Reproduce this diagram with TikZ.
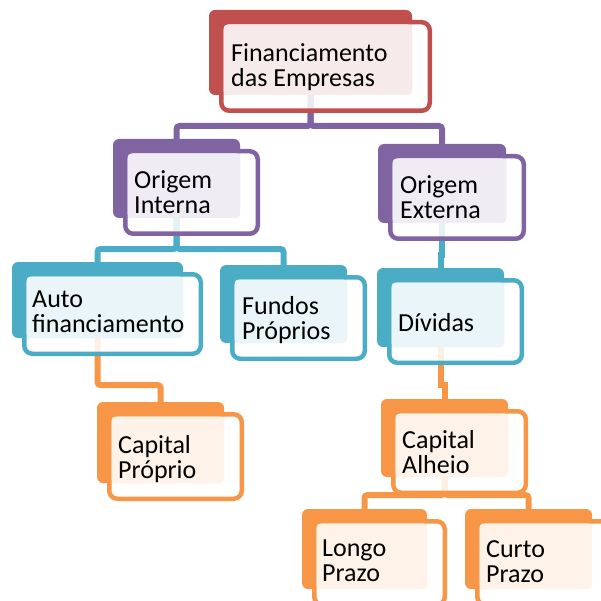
\documentclass[tikz,border=0pt]{standalone}
\usepackage{fontspec}
\setmainfont{Carlito}
\definecolor{fred}{HTML}{C0504D}
\definecolor{fpurple}{HTML}{8064A2}
\definecolor{fblue}{HTML}{4BACC6}
\definecolor{forange}{HTML}{F79646}
\tikzset{
  cardback/.style={fill=#1, rounded corners=6pt, inner sep=0pt, outer sep=0pt, anchor=north west},
  cardfront/.style={draw=#1, line width=4.5pt, fill=white, fill opacity=0.85, rounded corners=8pt},
  tint/.style={fill=#1!12, rounded corners=4pt},
  link/.style={draw=#1, line width=6pt, rounded corners=3pt},
  txt/.style={anchor=north west, inner sep=0pt, align=left,
    font=\fontsize{26pt}{25pt}\selectfont, execute at begin node={\rule{0pt}{20pt}}}
}

\begin{document}
\begin{tikzpicture}[x=1pt,y=-1pt]
  \useasboundingbox (0,0) rectangle (601,601);
  \clip (0,0) rectangle (601,601);
  % back tabs
  \node[cardback=fred, minimum width=203pt, minimum height=85pt] (fin) at (209,10) {};
  \node[cardback=fpurple, minimum width=127pt, minimum height=79pt] (oint) at (113,139) {};
  \node[cardback=fpurple, minimum width=128pt, minimum height=79pt] (oext) at (378,144) {};
  \node[cardback=fblue, minimum width=171pt, minimum height=76pt] (auto) at (12,262) {};
  \node[cardback=fblue, minimum width=127pt, minimum height=78pt] (fund) at (220,265) {};
  \node[cardback=fblue, minimum width=127pt, minimum height=79pt] (div) at (377,268) {};
  \node[cardback=forange, minimum width=127pt, minimum height=81pt] (cprop) at (97,402) {};
  \node[cardback=forange, minimum width=127pt, minimum height=78pt] (calh) at (381,399) {};
  \node[cardback=forange, minimum width=125pt, minimum height=80pt] (longo) at (302,509) {};
  \node[cardback=forange, minimum width=127pt, minimum height=80pt] (curto) at (465,509) {};
  % connectors
  \draw[link=fpurple] (fin.south) -- ++(0,31) -| (oint.north);
  \draw[link=fpurple] (fin.south) -- ++(0,31) -| (oext.north);
  \draw[link=fblue] (oint.south) -- ++(0,31) -| (auto.north);
  \draw[link=fblue] (oint.south) -- ++(0,31) -| (fund.north);
  \draw[link=fblue, sharp corners] (oext.south) -- ++(0,32) -| (div.north);
  \draw[link=forange] (auto.south) -- ++(0,47) -| (cprop.north);
  \draw[link=forange, sharp corners] (div.south) -- ++(0,38) -| (calh.north);
  \draw[link=forange] (calh.south) -- ++(0,18) -| (longo.north);
  \draw[link=forange] (calh.south) -- ++(0,18) -| (curto.north);
  % front cards
  \foreach \n/\col in {fin/fred, oint/fpurple, oext/fpurple, auto/fblue, fund/fblue,
      div/fblue, cprop/forange, calh/forange, longo/forange, curto/forange}{
    \draw[cardfront=\col] ([shift={(12.25,12.25)}]\n.north west) rectangle ([shift={(17.75,15.75)}]\n.south east);
    \fill[tint=\col] ([shift={(14.5,14.5)}]\n.north west) rectangle (\n.south east);
  }
  % labels
  \node[txt] (fin-t) at ([shift={(22,33)}]fin.north west) {Financiamento\\das Empresas};
  \node[txt] (oint-t) at ([shift={(21,31)}]oint.north west) {Origem\\Interna};
  \node[txt] (oext-t) at ([shift={(22,31)}]oext.north west) {Origem\\Externa};
  \node[txt] (auto-t) at ([shift={(20,29)}]auto.north west) {Auto\\financiamento};
  \node[txt] (fund-t) at ([shift={(22,31)}]fund.north west) {Fundos\\Próprios};
  \node[txt] (div-t) at ([shift={(21,43)}]div.north west) {Dívidas};
  \node[txt] (cprop-t) at ([shift={(21,33)}]cprop.north west) {Capital\\Próprio};
  \node[txt] (calh-t) at ([shift={(21,31)}]calh.north west) {Capital\\Alheio};
  \node[txt] (longo-t) at ([shift={(20,31)}]longo.north west) {Longo\\Prazo};
  \node[txt] (curto-t) at ([shift={(21,31)}]curto.north west) {Curto\\Prazo};
\end{tikzpicture}
\end{document}
